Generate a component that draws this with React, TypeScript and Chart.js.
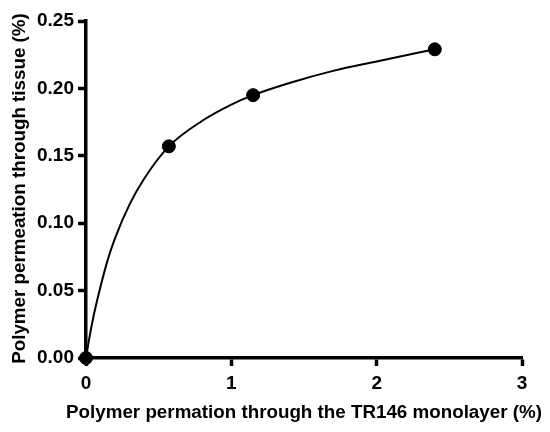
import React, { useEffect, useRef } from "react";
import { Chart, registerables } from "chart.js";

Chart.register(...registerables);

// Measured data points
const pointX = [0, 0.57, 1.15, 2.4];
const pointY = [0, 0.157, 0.195, 0.229];

// Fitted curve
const curveX = [0, 0.02, 0.05, 0.1, 0.15, 0.2, 0.3, 0.4, 0.57, 0.8, 1.0, 1.15, 1.4, 1.7, 2.0, 2.4];
const curveY = [0, 0.013, 0.03, 0.053, 0.073, 0.089, 0.114, 0.133, 0.157, 0.176, 0.188, 0.195, 0.204, 0.213, 0.220, 0.229];

const xTicks = [0, 1, 2, 3];
const yTicks = [0, 0.05, 0.1, 0.15, 0.2, 0.25];

const xTitle = "Polymer permation through the TR146 monolayer (%)";
const yTitle = "Polymer permeation through tissue (%)";

const FAMILY = "'Liberation Sans', Arial, sans-serif";

const titlePlugin = {
  id: "axisTitles",
  afterDraw(chart: any) {
    const ctx = chart.ctx as CanvasRenderingContext2D;
    const area = chart.chartArea;
    ctx.save();
    ctx.fillStyle = "#000";
    ctx.font = `bold 18.8px ${FAMILY}`;
    ctx.textAlign = "center";
    ctx.textBaseline = "alphabetic";
    ctx.fillText(xTitle, (area.left + area.right) / 2, 417.5);
    ctx.translate(25, (area.top + area.bottom) / 2 - 1);
    ctx.rotate(-Math.PI / 2);
    ctx.fillText(yTitle, 0, 0);
    ctx.restore();
  },
};

export default function App() {
  const ref = useRef<HTMLCanvasElement>(null);
  useEffect(() => {
    if (!ref.current) return;
    const font = { family: FAMILY, weight: "bold" as const, size: 19 };
    const chart = new Chart(ref.current, {
      type: "scatter",
      data: {
        datasets: [
          {
            type: "line",
            data: curveX.map((x, i) => ({ x, y: curveY[i] })),
            borderColor: "#000",
            borderWidth: 2,
            pointRadius: 0,
            cubicInterpolationMode: "monotone",
            fill: false,
            clip: false as any,
          },
          {
            data: pointX.map((x, i) => ({ x, y: pointY[i] })),
            backgroundColor: "#000",
            borderColor: "#000",
            pointRadius: 6.5,
            clip: false as any,
          },
        ],
      },
      options: {
        animation: false,
        responsive: false,
        devicePixelRatio: 1,
        layout: { padding: { left: 0, top: 21, right: 28, bottom: 0 } },
        plugins: { legend: { display: false }, tooltip: { enabled: false } },
        scales: {
          x: {
            type: "linear",
            min: 0,
            max: 3,
            afterBuildTicks: (s: any) => {
              s.ticks = xTicks.map((v) => ({ value: v }));
            },
            afterFit: (s: any) => {
              s.height = 74;
            },
            border: { display: true, color: "#000", width: 3.5 },
            grid: { drawOnChartArea: false, drawTicks: true, tickLength: 8, tickWidth: 3.5, tickColor: "#000" },
            ticks: { color: "#000", font, padding: 6, maxRotation: 0, callback: (v: any) => String(v) },
          },
          y: {
            type: "linear",
            min: 0,
            max: 0.25,
            afterBuildTicks: (s: any) => {
              s.ticks = yTicks.map((v) => ({ value: v }));
            },
            afterFit: (s: any) => {
              s.width = 86;
            },
            border: { display: true, color: "#000", width: 3.5 },
            grid: { drawOnChartArea: false, drawTicks: true, tickLength: 8, tickWidth: 3.5, tickColor: "#000" },
            ticks: { color: "#000", font, padding: 4, callback: (v: any) => Number(v).toFixed(2) },
          },
        },
      },
      plugins: [titlePlugin],
    });
    return () => chart.destroy();
  }, []);
  return (
    <div style={{ position: "absolute", left: 0, top: 0, width: 550, height: 432, background: "#fff" }}>
      <canvas ref={ref} width={550} height={432} style={{ width: 550, height: 432 }} />
    </div>
  );
}
